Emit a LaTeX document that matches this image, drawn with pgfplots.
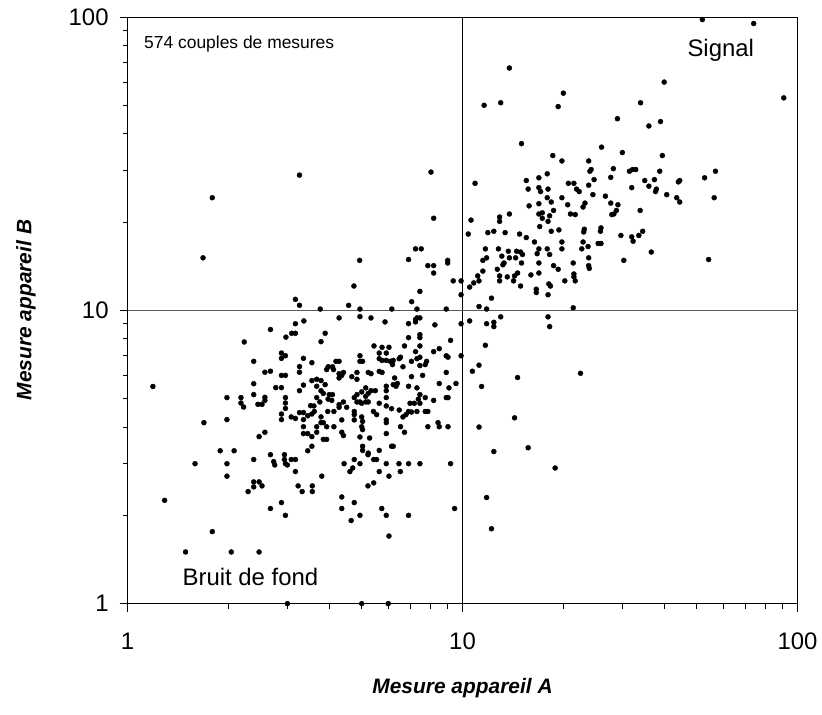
\documentclass[border=0pt]{standalone}
\usepackage{fontspec}
\setmainfont{Liberation Sans}
\usepackage{pgfplots}
\pgfplotsset{compat=1.18}
\usepackage{pgfplotstable}

\pgfplotstableread{
x y
52 98
74 95
91 53
13.8 67
40 60
20 55
11.6 50
13 51
19.3 49.5
34 51
29 45
36 42.5
39 44
15 37
26 36
30 34.5
18.6 33.7
39.5 33.7
19.8 32.3
23.8 32.3
10.9 27.1
15.5 27.7
16.9 28.3
17.9 29.2
15.7 25.9
16.9 26.2
17.1 25.4
18.0 25.9
17.9 24.2
18.4 23.4
16.9 23.1
15.8 22.7
20.7 27.1
21.5 27.1
21.9 25.9
22.3 25.4
23.8 26.7
24.7 27.9
24.0 29.8
24.2 30.2
28.2 30.4
27.7 28.4
31.5 29.8
32.2 30.2
32.9 30.2
35.0 27.7
36.0 26.5
37.4 27.9
38.8 29.8
37.9 25.9
37.7 25.4
40.7 24.8
44.1 27.4
44.5 27.7
43.6 24.2
44.5 23.4
52.8 28.3
56.9 29.8
56.4 24.2
19.8 24.2
20.6 22.9
24.5 24.8
26.7 24.5
23.2 23.2
22.9 22.5
27.7 23.2
29.1 22.9
28.8 21.9
28.3 21.3
27.9 21.2
33.9 21.9
32.0 26.2
10.6 20.3
10.4 18.2
12.9 20.8
12.9 20.1
13.8 21.3
11.9 18.4
12.4 18.6
13.4 18.4
16.9 21.3
17.3 21.5
18.2 21.0
17.3 20.6
18.0 20.1
17.0 19.3
18.7 21.9
21.0 21.3
21.7 21.2
14.8 18.2
15.5 17.7
16.4 17.1
18.4 18.6
19.4 18.8
19.8 17.1
19.8 16.2
17.9 16.2
16.9 16.2
16.7 15.6
18.2 15.5
16.9 14.5
18.7 14.2
19.3 13.8
16.9 13.4
16.0 13.2
21.4 14.5
21.5 13.3
21.5 13.0
20.2 12.6
21.7 12.6
23.0 18.5
23.1 18.9
22.9 17.1
23.7 16.5
22.7 16.2
23.8 15.1
23.8 14.2
23.9 13.9
25.8 18.6
25.9 19.1
25.4 16.9
25.9 16.9
29.7 18.0
32.0 17.8
32.3 17.2
33.6 18.0
34.5 18.6
36.6 15.8
30.3 14.8
54.3 14.9
11.7 16.2
11.5 14.8
11.8 15.1
12.8 16.2
13.1 15.3
13.3 14.5
13.2 14.3
12.7 13.8
13.7 15.9
13.8 15.1
14.5 15.9
14.9 15.8
15.1 15.5
14.4 15.1
15.0 14.5
14.6 13.4
14.3 13.1
13.6 13.0
14.2 12.6
14.9 12.1
12.9 13.1
12.9 12.6
11.5 13.6
11.1 13.1
11.2 12.6
10.8 12.4
10.5 12.0
9.9 12.6
9.9 11.3
12.2 11.0
11.2 10.3
11.8 10.1
16.6 11.8
16.6 11.5
18.1 12.3
18.3 12.1
18.0 11.3
21.4 10.2
9.9 9.0
10.5 9.2
11.8 9.0
12.4 9.1
12.4 8.8
13.0 9.5
18.0 9.5
18.2 8.8
11.7 7.6
9.9 7.0
11.2 6.5
10.7 6.2
14.6 5.9
22.5 6.1
11.4 5.5
14.3 4.3
11.2 4.0
15.7 3.4
12.4 3.3
18.9 2.9
11.8 2.3
12.2 1.8
3.26 28.9
1.79 24.2
1.68 15.1
8.05 29.6
8.2 20.6
7.24 16.2
7.53 16.2
6.9 14.9
4.93 14.8
7.88 14.2
8.2 14.2
8.2 13.4
9.03 14.8
9.03 14.5
9.38 12.6
4.74 12.1
7.46 11.6
3.17 10.9
3.26 10.4
3.76 10.1
4.57 10.4
4.94 10.1
6.15 10.1
7.05 10.7
7.31 10.1
8.94 10.1
3.17 9.0
3.36 9.2
2.67 8.6
2.97 8.1
3.09 8.35
3.17 8.35
2.23 7.8
2.38 6.7
2.88 7.15
2.88 6.86
2.96 7.0
3.35 6.86
3.55 6.63
3.26 6.43
3.26 6.15
2.57 6.15
2.67 6.2
2.88 6.0
2.96 6.0
2.38 5.62
2.77 5.45
2.88 5.45
3.26 5.32
3.35 5.56
3.55 5.76
2.38 5.16
1.98 5.04
2.18 5.04
2.18 4.83
2.22 4.68
2.45 4.78
2.52 4.78
2.57 4.93
2.57 5.05
2.96 5.04
2.96 4.83
2.96 4.63
2.88 4.43
2.88 4.24
3.08 4.33
3.17 4.28
3.26 4.48
3.35 4.48
3.45 4.37
3.55 4.43
3.52 4.73
3.35 4.24
3.35 4.01
3.35 3.80
3.45 3.80
3.55 3.71
1.98 4.24
1.69 4.14
2.57 3.84
2.47 3.71
1.89 3.32
2.08 3.32
3.55 3.44
3.45 3.32
1.19 5.5
1.29 2.25
4.28 9.42
4.94 9.52
5.33 9.42
5.87 9.13
6.90 9.01
7.24 9.30
7.31 9.42
7.46 9.42
7.24 9.13
8.27 8.92
3.89 8.35
3.78 7.82
6.90 8.07
7.46 8.26
7.46 8.07
7.46 7.56
7.24 7.23
7.46 6.92
7.31 6.84
6.71 7.56
8.20 7.23
8.52 7.40
8.94 7.00
9.05 6.92
9.21 7.90
5.44 7.56
5.75 7.48
6.03 7.48
5.64 7.15
5.92 7.15
5.64 6.84
5.75 6.75
5.92 6.75
6.09 6.70
6.21 6.75
6.18 6.53
6.53 6.92
6.47 6.84
6.64 6.42
7.04 6.70
7.46 6.48
7.81 6.70
7.74 6.53
7.60 6.00
8.94 6.14
7.04 5.94
4.94 7.00
4.94 6.70
5.03 6.70
4.19 6.70
4.28 6.70
3.97 6.42
4.09 6.42
3.93 6.28
4.12 6.28
4.28 6.08
4.41 6.14
4.36 6.00
4.28 5.88
4.67 5.94
4.84 6.14
4.84 5.82
5.23 6.14
5.33 6.08
5.64 6.19
5.75 6.14
6.27 5.88
3.67 5.82
3.78 5.76
3.89 5.58
3.67 5.51
3.78 5.32
3.84 5.21
3.67 5.04
4.00 5.16
4.09 5.16
3.97 4.98
4.07 4.93
3.75 4.87
3.60 4.72
4.84 5.16
4.75 5.04
5.00 5.27
5.14 5.44
5.23 5.21
5.14 5.09
5.33 5.32
5.49 5.32
4.94 4.87
4.84 4.87
5.00 4.82
5.14 4.87
5.23 4.87
4.41 4.87
4.51 4.67
4.28 4.77
4.28 4.67
5.92 5.51
5.92 5.32
6.21 5.58
6.33 5.51
6.39 5.63
5.92 5.04
5.64 4.82
5.92 4.72
6.14 4.62
6.47 4.57
6.90 5.51
7.31 5.44
7.46 5.16
7.38 4.98
7.46 4.82
7.18 4.82
6.97 4.82
7.04 4.50
6.90 4.52
7.31 4.52
6.78 4.41
6.64 4.33
7.74 4.52
7.88 4.52
7.74 5.04
8.20 4.93
8.52 5.63
9.11 5.44
9.56 5.63
8.94 5.04
9.05 5.04
3.96 4.52
4.13 4.52
3.78 4.33
3.61 4.52
3.84 4.14
3.78 4.14
3.67 4.01
3.93 4.01
4.13 4.01
4.36 4.23
4.36 3.84
4.41 3.74
4.75 4.52
4.75 4.41
4.75 4.23
5.00 4.33
5.03 4.18
5.00 4.01
5.03 3.92
4.94 3.70
5.28 3.67
5.42 4.52
5.54 4.41
5.92 4.23
5.92 4.14
5.92 3.80
6.53 4.01
6.71 3.84
7.88 4.01
8.45 4.14
8.52 4.01
9.05 4.01
3.67 3.84
3.93 3.63
3.84 3.63
5.03 3.44
5.03 3.33
5.23 3.26
5.64 3.33
6.14 3.44
6.21 3.44
1.59 3.0
1.98 3.0
1.98 2.72
2.38 3.10
2.67 3.22
2.73 3.05
2.75 2.97
2.94 3.22
2.94 3.10
2.96 3.0
3.0 2.97
3.08 3.10
3.17 3.10
3.17 2.82
3.80 2.72
3.23 2.52
3.32 2.41
3.56 2.52
3.56 2.41
2.38 2.60
2.38 2.50
2.47 2.60
2.52 2.52
2.29 2.41
2.67 2.11
2.88 2.21
2.96 2.0
1.79 1.76
1.49 1.5
2.04 1.5
2.47 1.5
4.43 3.0
4.75 3.10
4.94 3.0
4.61 2.82
4.70 2.90
5.22 3.22
5.43 3.10
5.54 3.10
5.64 2.82
5.92 3.0
6.03 2.72
6.46 3.0
6.52 2.82
6.90 3.0
7.46 3.0
9.21 3.0
5.22 2.52
5.43 2.58
4.36 2.31
4.36 2.11
4.75 2.21
4.65 1.92
4.94 2.0
5.74 2.11
5.92 2.0
6.90 2.0
6.03 1.70
9.47 2.11
3 1
5 1
6 1
}\pts

\begin{document}
\begin{tikzpicture}
\begin{axis}[
  at={(0,0)}, anchor=south west,
  scale only axis,
  width=670bp, height=586.7bp,
  xmode=log, ymode=log,
  xmin=1, xmax=100, ymin=1, ymax=100,
  xtick={1,10,100}, xticklabels={1,10,100},
  ytick={1,10,100}, yticklabels={1,10,100},
  tick pos=left, tick align=outside,
  major tick length=8bp, minor tick length=5bp,
  every tick/.style={black, line width=0.8bp},
  axis line style={black, line width=0.8bp},
  ticklabel style={font=\fontsize{24}{28}\selectfont},
  xticklabel style={yshift=-18bp},
  yticklabel style={xshift=-7.5bp},
  xlabel={Mesure appareil A},
  ylabel={Mesure appareil B},
  xlabel style={font=\fontsize{21}{25}\selectfont\bfseries\itshape,
    at={(axis description cs:0.5,-0.1437)}, anchor=center},
  ylabel style={font=\fontsize{21}{25}\selectfont\bfseries\itshape,
    at={(axis description cs:-0.1516,0.5006)}, anchor=center},
  clip=false,
]
\addplot[black, line width=0.8bp, forget plot] coordinates {(10,1) (10,100)};
\addplot[black!65, line width=0.8bp, forget plot] coordinates {(1,10) (100,10)};
\addplot[only marks, mark=*, mark size=2.5bp, black] table[x=x, y=y] {\pts};
\node[anchor=west, inner sep=0pt, font=\fontsize{17.5}{20}\selectfont] at (rel axis cs:0.0245,0.954) {574 couples de mesures};
\node[font=\fontsize{24}{28}\selectfont] at (rel axis cs:0.8854,0.9438) {Signal};
\node[font=\fontsize{24}{28}\selectfont] at (rel axis cs:0.1834,0.0447) {Bruit de fond};
\end{axis}
\path (-127.6bp,-111.3bp) rectangle (694.5bp,603.7bp);
\end{tikzpicture}
\end{document}
